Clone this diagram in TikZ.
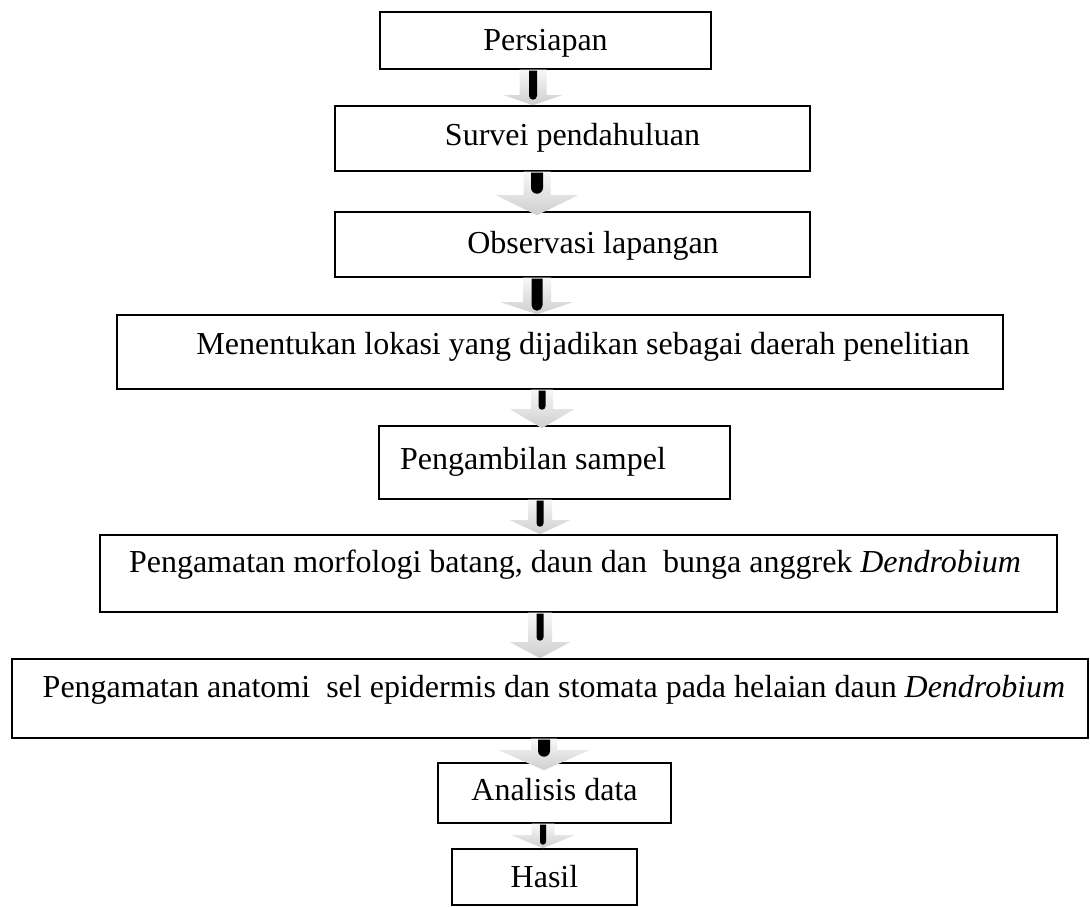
\documentclass[tikz,border=0pt]{standalone}
\usepackage{fontspec}
\setmainfont{Liberation Serif}
\usetikzlibrary{calc}
% #1 top node, #2 bottom node, #3 x, #4 shaft half, #5 head half, #6 head height, #7 tip overlap, #8 bar half, #9 bar length
\newcommand{\garrow}[9]{%
  \shade[top color=gray!6, bottom color=gray!38]
    let \p1=(#1.south), \p2=(#2.north) in
    (#3pt-#4pt,\y1) -- (#3pt+#4pt,\y1) -- (#3pt+#4pt,\y2-#7pt+#6pt) -- (#3pt+#5pt,\y2-#7pt+#6pt)
    -- (#3pt,\y2-#7pt) -- (#3pt-#5pt,\y2-#7pt+#6pt) -- (#3pt-#4pt,\y2-#7pt+#6pt) -- cycle;
  \fill[black]
    let \p1=(#1.south) in
    (#3pt-#8pt,\y1-1pt) -- (#3pt-#8pt,\y1-#9pt+#8pt) arc[start angle=180,end angle=360,radius=#8pt]
    -- (#3pt+#8pt,\y1-1pt) -- cycle;
}
\begin{document}
\begin{tikzpicture}[x=1pt,y=1pt,
  flowbox/.style={draw, line width=1.5pt, inner sep=0pt, text height=22pt, text depth=7pt,
    font=\fontsize{32}{38}\selectfont}]
\useasboundingbox (0,0) rectangle (1090,907);
\node[flowbox, minimum width=331pt, minimum height=57pt, text depth=2pt] (b1) at (545.5,866.5) {Persiapan};
\node[flowbox, minimum width=475pt, minimum height=65pt] (b2) at (572.5,768.5) {Survei pendahuluan};
\node[flowbox, minimum width=475pt, minimum height=65pt, text depth=4pt] (b3) at (572.5,662.5) {\hspace*{41pt}Observasi lapangan};
\node[flowbox, minimum width=886pt, minimum height=74pt, text depth=17pt] (b4) at (560,555) {\hspace*{46pt}Menentukan lokasi yang dijadikan sebagai daerah penelitian};
\node[flowbox, minimum width=351pt, minimum height=73pt] (b5) at (554.5,444.5) {Pengambilan sampel\hspace*{43pt}};
\node[flowbox, minimum width=957pt, minimum height=77pt, text depth=24pt] (b6) at (578.5,333.5) {Pengamatan morfologi batang, daun dan~ bunga anggrek \textit{Dendrobium}\hspace*{7pt}};
\node[flowbox, minimum width=1076pt, minimum height=79pt, text depth=24pt] (b7) at (550,208.5) {\hspace*{8pt}Pengamatan anatomi~ sel epidermis dan stomata pada helaian daun \textit{Dendrobium}};
\node[flowbox, minimum width=233pt, minimum height=60pt] (b8) at (554.5,114) {Analisis data};
\node[flowbox, minimum width=185pt, minimum height=56pt, text depth=1pt] (b9) at (544.5,30) {Hasil};

\garrow{b1}{b2}{533}{13.5}{29}{10}{0}{4}{30}
\garrow{b2}{b3}{537}{13.5}{41}{20}{4}{6}{22}
\garrow{b3}{b4}{537}{14}{36}{12}{0}{5.5}{33}
\garrow{b4}{b5}{542}{11}{32}{19}{3}{3.5}{20}
\garrow{b5}{b6}{540}{12}{30}{14}{0}{3.5}{27}
\garrow{b6}{b7}{540}{12}{30}{16}{0}{3.5}{28}
\garrow{b7}{b8}{544}{13}{45}{20}{8}{6}{18}
\garrow{b8}{b9}{543}{11.5}{31.5}{13}{0}{3}{21}
\end{tikzpicture}
\end{document}
